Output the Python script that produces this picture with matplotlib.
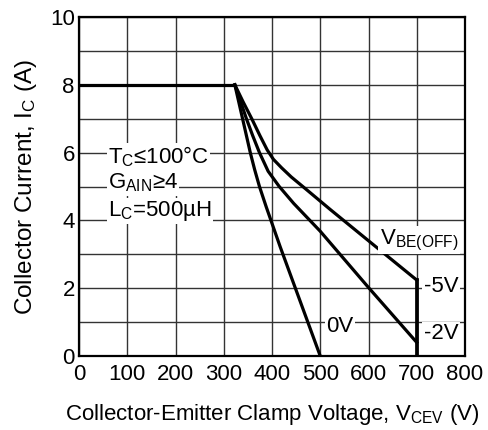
import matplotlib
matplotlib.use("Agg")
from matplotlib import pyplot as plt
import numpy as np

plt.rcParams['font.family'] = ['Liberation Sans', 'DejaVu Sans']
plt.rcParams['mathtext.fontset'] = 'custom'
plt.rcParams['mathtext.rm'] = 'Liberation Sans'
plt.rcParams['mathtext.it'] = 'Liberation Sans'

# flat limit
flat_v = [0, 323]
flat_i = [8, 8]

# VBE(OFF) = 0V
v_0 = [323, 331, 339, 347, 355, 364, 374, 388, 417, 500]
i_0 = [8, 7.5, 7, 6.5, 6, 5.5, 5, 4.4, 3.22, 0]

# VBE(OFF) = -2V
v_2 = [323, 335, 347, 360, 374, 392, 415, 445, 500, 600, 700]
i_2 = [8, 7.5, 7, 6.5, 6, 5.45, 5, 4.5, 3.68, 2.02, 0.4]

# VBE(OFF) = -5V
v_5 = [323, 340, 358, 375, 390, 403, 420, 440, 468, 520, 600, 700]
i_5 = [8, 7.5, 7, 6.5, 6.08, 5.8, 5.55, 5.28, 4.95, 4.33, 3.4, 2.24]

# clamp edge
edge_v = [700, 700]
edge_i = [0, 2.24]

fig = plt.figure(figsize=(4.89, 4.30), dpi=100)
ax = fig.add_axes([79/489, 1-356/430, (465-79)/489, (356-17)/430])

lw = 2.3
ax.plot(flat_v, flat_i, color='black', lw=lw, solid_capstyle='butt')
ax.plot(v_0, i_0, color='black', lw=lw)
ax.plot(v_2, i_2, color='black', lw=lw)
ax.plot(v_5, i_5, color='black', lw=lw)
ax.plot(edge_v, edge_i, color='black', lw=lw + 0.4)

ax.set_xlim(0, 800)
ax.set_ylim(0, 10)
ax.set_xticks(np.arange(0, 801, 100))
ax.set_yticks(np.arange(0, 11, 2))
ax.set_yticks(np.arange(0, 11, 1), minor=True)
ax.grid(True, which='both', color='#333333', lw=1.0)
ax.tick_params(which='both', length=0, labelsize=16, pad=3)
ax.tick_params(axis='x', pad=6)
for s in ax.spines.values():
    s.set_linewidth(1.6)

ax.set_xlabel(r'Collector-Emitter Clamp Voltage, V$_{\mathregular{CEV}}$ (V)', fontsize=16, labelpad=12)
ax.set_ylabel(r'Collector Current, I$_{\mathregular{C}}$ (A)', fontsize=17.5, labelpad=8)

box = dict(facecolor='white', edgecolor='none', pad=1)
fs = 16
ax.text(60, 5.87, r'T$_{\mathregular{C}}$≤100°C', fontsize=fs, va='center', ha='left', bbox=box)
ax.text(60, 5.1, r'G$_{\mathregular{AIN}}$≥4', fontsize=fs, va='center', ha='left', bbox=box)
ax.text(60, 4.28, r'L$_{\mathregular{C}}$=500µH', fontsize=fs, va='center', ha='left', bbox=box)
ax.text(786, 3.42, r'V$_{\mathregular{BE(OFF)}}$', fontsize=fs, va='center', ha='right', bbox=box)
ax.text(786, 2.05, '-5V', fontsize=fs, va='center', ha='right', bbox=box)
ax.text(786, 0.65, '-2V', fontsize=fs, va='center', ha='right', bbox=box)
ax.text(512, 0.86, '0V', fontsize=fs, va='center', ha='left', bbox=box)

fig.savefig('out.png', dpi=100)
